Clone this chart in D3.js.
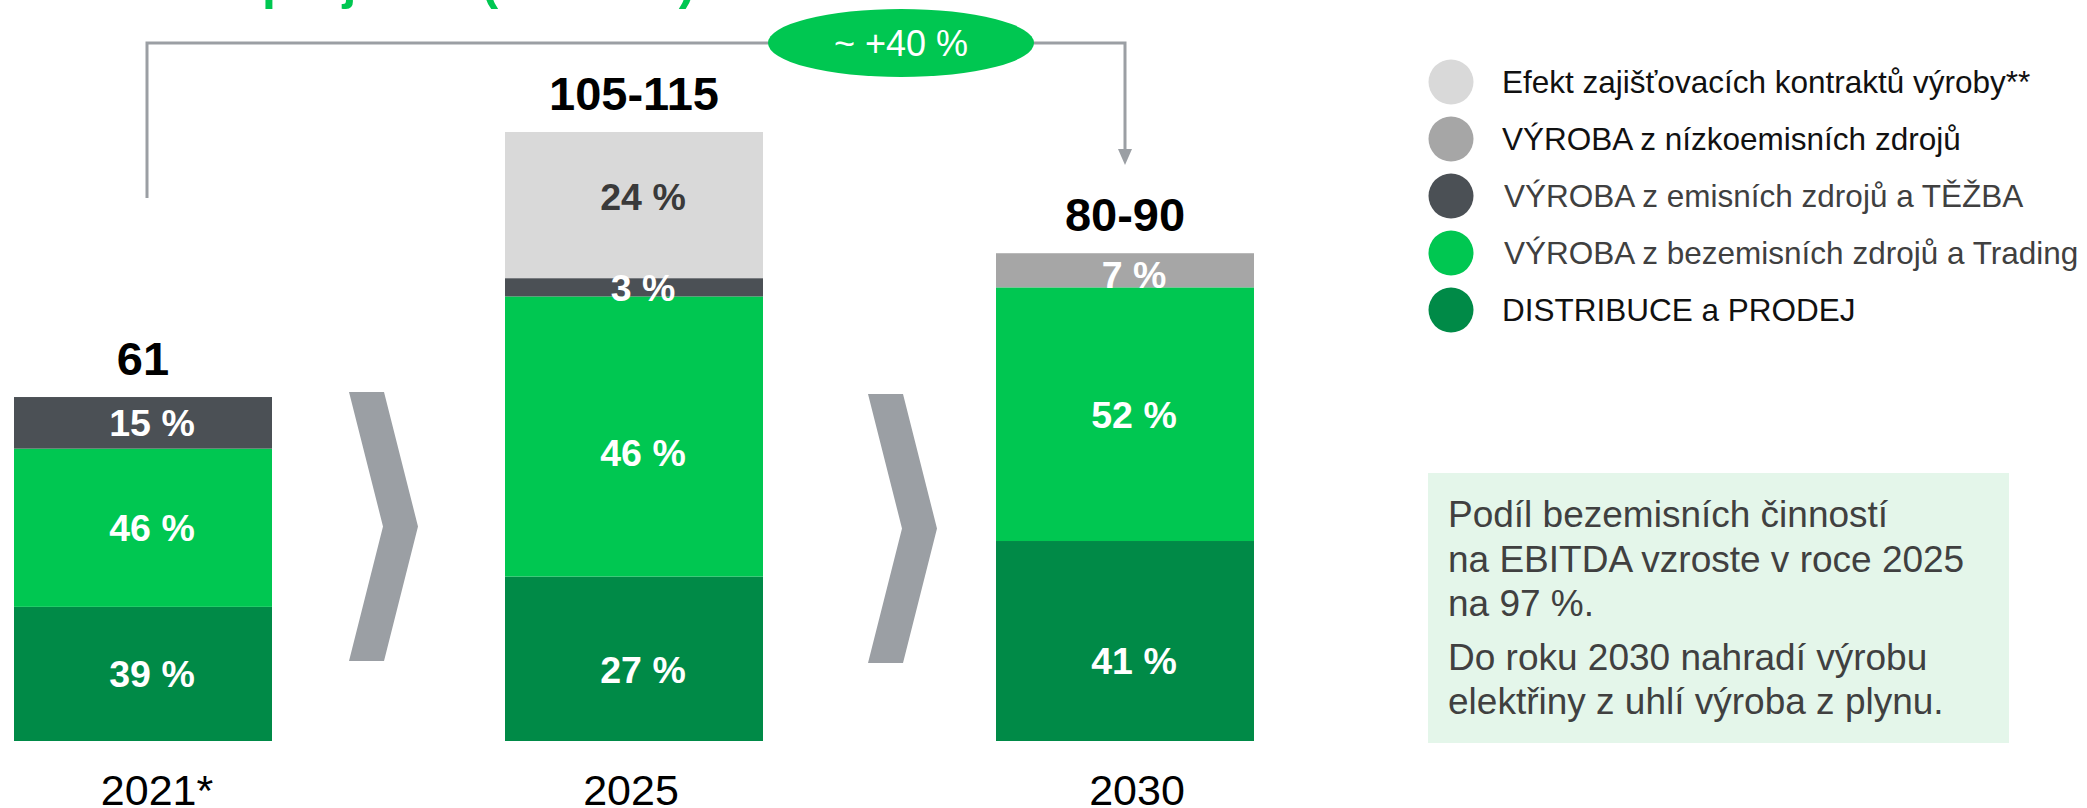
<!DOCTYPE html>
<html>
<head>
<meta charset="utf-8">
<script src="https://cdn.jsdelivr.net/npm/d3@7"></script>
<style>
  body { margin: 0; background: #fff; }
  svg { display: block; font-family: "Liberation Sans", Arial, sans-serif; }
</style>
</head>
<body>
<div id="chart"></div>
<script>
// data
var years = ["2021*", "2025", "2030"];
var totals = [61, 108, 86.5];              // bar heights (mld. Kč)
var totalLabels = ["61", "105-115", "80-90"];
var segments = ["distribuce", "bezemisni", "emisni", "nizkoemisni", "zajisteni"];
// share of each segment in each bar (%)
var distribuce = [39, 27, 41];
var bezemisni = [46, 46, 52];
var emisni = [15, 3, 0];
var nizkoemisni = [0, 0, 7];
var zajisteni = [0, 24, 0];
var legendLabels = [
  "Efekt zajišťovacích kontraktů výroby**",
  "VÝROBA z nízkoemisních zdrojů",
  "VÝROBA z emisních zdrojů a TĚŽBA",
  "VÝROBA z bezemisních zdrojů a Trading",
  "DISTRIBUCE a PRODEJ"
];
var legendKeys = ["zajisteni", "nizkoemisni", "emisni", "bezemisni", "distribuce"];
var growthLabel = "~ +40 %";
var noteLines = [
  "Podíl bezemisních činností",
  "na EBITDA vzroste v roce 2025",
  "na 97 %.",
  "Do roku 2030 nahradí výrobu",
  "elektřiny z uhlí výroba z plynu."
];

var width = 2087;
var height = 808;

var colors = {
  distribuce: "#008a47",
  bezemisni: "#00c751",
  emisni: "#4b5055",
  nizkoemisni: "#a6a6a6",
  zajisteni: "#d9d9d9"
};
var labelColors = {
  distribuce: "#fff",
  bezemisni: "#fff",
  emisni: "#fff",
  nizkoemisni: "#fff",
  zajisteni: "#3a3a3a"
};
// small nudges of the value labels, as placed in the original slide
var labelNudge = {
  "2025": { zajisteni: -9, bezemisni: 16, distribuce: 11 },
  "2030": { nizkoemisni: 4, distribuce: 19 }
};
var legendTextColors = ["#111", "#111", "#404040", "#404040", "#111"];

var shares = {
  distribuce: distribuce,
  bezemisni: bezemisni,
  emisni: emisni,
  nizkoemisni: nizkoemisni,
  zajisteni: zajisteni
};

var svg = d3.select("#chart")
  .append("svg")
  .attr("width", width)
  .attr("height", height);

// scales
var barWidth = 258;
var x = d3.scalePoint().domain(years).range([143, 1125]);
var y = d3.scaleLinear().domain([0, 108]).range([741, 132]);

// build table of rows for the stack
var rows = years.map(function(yr, i) {
  var row = { year: yr, total: totals[i] };
  segments.forEach(function(k) { row[k] = shares[k][i] / 100 * totals[i]; });
  return row;
});
var stacked = d3.stack().keys(segments)(rows);

// flat list of non-empty segments
var pieces = [];
stacked.forEach(function(s) {
  s.forEach(function(d, i) {
    if (shares[s.key][i] > 0) {
      pieces.push({ key: s.key, year: d.data.year, y0: d[0], y1: d[1], share: shares[s.key][i] });
    }
  });
});

// title (mostly cut off at the top of the picture)
svg.append("text")
  .attr("y", -1)
  .attr("font-size", 50)
  .attr("font-weight", "bold")
  .attr("fill", "#00c751")
  .text("EBITDA – projekce (mld. Kč)")
  .each(function() {
    // shift so that "projekce" starts where it sits in the slide
    var pre = this.getSubStringLength(0, 9);
    d3.select(this).attr("x", 262 - pre);
  });

// bars
svg.selectAll(".seg")
  .data(pieces)
  .enter()
  .append("rect")
  .attr("class", "seg")
  .attr("x", function(d) { return x(d.year) - barWidth / 2; })
  .attr("y", function(d) { return y(d.y1); })
  .attr("width", barWidth)
  .attr("height", function(d) { return y(d.y0) - y(d.y1); })
  .attr("fill", function(d) { return colors[d.key]; });

// segment labels
svg.selectAll(".segLabel")
  .data(pieces)
  .enter()
  .append("text")
  .attr("class", "segLabel")
  .attr("x", function(d) { return x(d.year) + 9; })
  .attr("y", function(d) {
    var n = (labelNudge[d.year] || {})[d.key] || 0;
    return (y(d.y0) + y(d.y1)) / 2 + n;
  })
  .attr("dy", "0.36em")
  .attr("text-anchor", "middle")
  .attr("font-size", 37.5)
  .attr("font-weight", "bold")
  .attr("fill", function(d) { return labelColors[d.key]; })
  .text(function(d) { return d.share + " %"; });

// totals above bars
svg.selectAll(".total")
  .data(rows)
  .enter()
  .append("text")
  .attr("class", "total")
  .attr("x", function(d) { return x(d.year); })
  .attr("y", function(d) { return y(d.total) - 22; })
  .attr("text-anchor", "middle")
  .attr("font-size", 47)
  .attr("font-weight", "bold")
  .attr("fill", "#000")
  .text(function(d, i) { return totalLabels[i]; });

// year labels
var yearDx = [14, -3, 12];
svg.selectAll(".year")
  .data(years)
  .enter()
  .append("text")
  .attr("class", "year")
  .attr("x", function(d, i) { return x(d) + yearDx[i]; })
  .attr("y", 805)
  .attr("text-anchor", "middle")
  .attr("font-size", 43)
  .attr("fill", "#000")
  .text(function(d) { return d; });

// chevrons between bars
var chevOffsets = [77, 105];
[0, 1].forEach(function(i) {
  var left = x(years[i]) + barWidth / 2 + chevOffsets[i];
  var top = 392 + i * 2, bot = 661 + i * 2, mid = (top + bot) / 2;
  var w = 35, tip = 34;
  svg.append("path")
    .attr("d", "M" + left + "," + top +
      "L" + (left + w) + "," + top +
      "L" + (left + w + tip) + "," + mid +
      "L" + (left + w) + "," + bot +
      "L" + left + "," + bot +
      "L" + (left + tip) + "," + mid + "Z")
    .attr("fill", "#9b9fa4");
});

// growth bracket with arrow
var bx0 = x(years[0]) + 4, bx1 = x(years[2]);
var lineY = 43;
svg.append("path")
  .attr("d", "M" + bx0 + ",198 L" + bx0 + "," + lineY + " L" + bx1 + "," + lineY + " L" + bx1 + ",150")
  .attr("fill", "none")
  .attr("stroke", "#9b9fa4")
  .attr("stroke-width", 3);
svg.append("path")
  .attr("d", "M" + (bx1 - 7) + ",149 L" + (bx1 + 7) + ",149 L" + bx1 + ",165 Z")
  .attr("fill", "#9b9fa4");

svg.append("ellipse")
  .attr("cx", 901)
  .attr("cy", lineY)
  .attr("rx", 133)
  .attr("ry", 34)
  .attr("fill", "#00c751");
svg.append("text")
  .attr("x", 901)
  .attr("y", 56)
  .attr("text-anchor", "middle")
  .attr("font-size", 36)
  .attr("fill", "#fff")
  .text(growthLabel);

// legend
var legend = svg.append("g").attr("class", "legend");
legendLabels.forEach(function(lbl, i) {
  var cy = 82 + i * 57;
  legend.append("circle")
    .attr("cx", 1451)
    .attr("cy", cy)
    .attr("r", 22.5)
    .attr("fill", colors[legendKeys[i]]);
  legend.append("text")
    .attr("x", (i === 2 || i === 3) ? 1504 : 1502)
    .attr("y", cy + 11)
    .attr("font-size", 31.5)
    .attr("fill", legendTextColors[i])
    .text(lbl);
});

// note box
svg.append("rect")
  .attr("x", 1428)
  .attr("y", 473)
  .attr("width", 581)
  .attr("height", 270)
  .attr("fill", "#e4f6ea");
var noteY = [527, 572, 616, 670, 714];
noteLines.forEach(function(line, i) {
  svg.append("text")
    .attr("x", 1448)
    .attr("y", noteY[i])
    .attr("font-size", 37)
    .attr("fill", "#404040")
    .text(line);
});
</script>
</body>
</html>
